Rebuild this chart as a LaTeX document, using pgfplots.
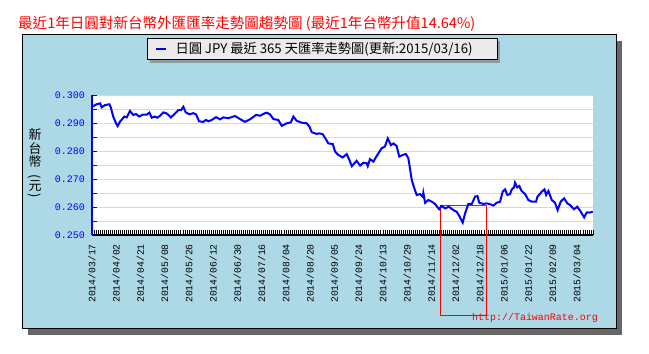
\documentclass[border=0pt]{standalone}
\usepackage{pgfplots}
\pgfplotsset{compat=1.18}
\usepackage{fontspec}
\newfontfamily\cjk{Noto Sans CJK TC}
\newfontfamily\mono{Liberation Mono}
\definecolor{panelblue}{HTML}{ADD8E6}
\definecolor{shadowgray}{HTML}{666666}
\definecolor{legendgray}{HTML}{EBEBEB}
\definecolor{legshadow}{HTML}{8B9DA3}
\definecolor{gridgray}{HTML}{D8D8D8}
\definecolor{pureblue}{HTML}{0000FF}
\definecolor{purered}{HTML}{FF0000}
\begin{document}
\begin{tikzpicture}
\useasboundingbox (0,0) rectangle (649bp,354bp);
\fill[shadowgray] (28bp,19bp) rectangle (622bp,313bp);
\filldraw[fill=panelblue, draw=black, line width=1bp] (22bp,25bp) rectangle (616bp,319bp);
\node[anchor=west, text=purered, font=\cjk\fontsize{14.6}{16}\selectfont, inner sep=0pt] at (18bp,330bp) {最近1年日圓對新台幣外匯匯率走勢圖趨勢圖 (最近1年台幣升值14.64\%)};
\fill[legshadow] (150bp,291bp) rectangle (500bp,313bp);
\begin{scope}[font=\cjk\fontsize{13}{13}\selectfont, inner sep=0pt]
\node at (35bp,219bp) {新};
\node at (35bp,205bp) {台};
\node at (35bp,192bp) {幣};
\node[rotate=-90] at (35bp,177.5bp) {(};
\node at (35bp,168bp) {元};
\node[rotate=-90] at (35bp,158bp) {)};
\end{scope}
\node[anchor=west, text=purered, font=\mono\fontsize{10}{12}\selectfont, inner sep=0pt] at (472bp,36bp) {http://TaiwanRate.org};
\begin{axis}[
  at={(92bp,119bp)}, anchor=south west,
  width=501bp, height=140bp, scale only axis,
  xmin=0, xmax=248, ymin=0.25, ymax=0.30,
  clip=false,
  axis background/.style={fill=white},
  axis x line*=bottom, axis y line*=left,
  x axis line style={black, line width=2bp, -},
  y axis line style={pureblue, line width=1.5bp, -},
  xtick={0,12,...,240},
  xticklabels={2014/03/17,2014/04/02,2014/04/21,2014/05/08,2014/05/26,2014/06/12,2014/06/30,2014/07/16,2014/08/04,2014/08/20,2014/09/05,2014/09/24,2014/10/13,2014/10/29,2014/11/14,2014/12/02,2014/12/18,2015/01/06,2015/01/22,2015/02/09,2015/03/04},
  minor xtick={0,1,...,248},
  ytick={0.25,0.26,0.27,0.28,0.29,0.30},
  minor ytick={0.255,0.265,0.275,0.285,0.295},
  ymajorgrids, yminorgrids,
  major grid style={gridgray, line width=1bp},
  minor grid style={gridgray, line width=1bp},
  tick align=inside,
  major tick length=4.5bp, minor tick length=4.5bp,
  xtick style={black, line width=0.8bp},
  ytick style={pureblue, line width=1bp},
  xticklabel style={rotate=90, anchor=east, inner sep=0pt, font=\mono\fontsize{9.8}{12}\selectfont, text=black},
  xticklabel shift=9bp,
  yticklabel style={anchor=east, inner sep=0pt, font=\mono\fontsize{10}{12}\selectfont, text=pureblue, /pgf/number format/.cd, fixed, fixed zerofill, precision=3},
  yticklabel shift=7bp,
  /pgf/number format/assume math mode=true,
  legend style={at={(rel axis cs:0.1098,1.4071)}, anchor=north west, draw=black, fill=legendgray, line width=1bp, inner sep=0pt, column sep=0pt, nodes={inner sep=0pt}, font=\cjk\fontsize{13.3}{14}\selectfont},
  legend image code/.code={\path[draw=none, fill=none] (0bp,-10.5bp) rectangle (28bp,10.5bp); \draw[pureblue, line width=2.5bp] (8bp,0bp) -- (18bp,0bp);},
]
\draw[purered, line width=1bp] (axis cs:172.3,0.2606) rectangle (axis cs:195.4,0.2214);
\addplot[pureblue, line width=2bp, mark=none] coordinates {
(0,0.2958) (2.3,0.2967) (4.0,0.2970) (4.8,0.2956) (6.4,0.2964) (8.6,0.2967) (9.3,0.2956) (10.5,0.2923) (11.9,0.2899) (12.7,0.2889)
(13.9,0.2905) (16.0,0.2923) (17.2,0.2920) (18.8,0.2943) (20.4,0.2929) (21.8,0.2932) (23.4,0.2923) (25.1,0.2930) (27.1,0.2930) (28.4,0.2937)
(29.6,0.2919) (31.2,0.2923) (32.3,0.2919) (33.7,0.2926) (35.3,0.2938) (37.3,0.2933) (39.0,0.2920) (40.6,0.2930) (42.7,0.2946) (44.1,0.2946)
(45.2,0.2958) (46.4,0.2938) (48.2,0.2931) (50.1,0.2935) (51.5,0.2931) (53.0,0.2906) (55.1,0.2904) (56.4,0.2911) (57.6,0.2906) (59.3,0.2911)
(61.4,0.2921) (63.4,0.2913) (65.0,0.2920) (67.5,0.2917) (70.8,0.2925) (73.3,0.2914) (75.7,0.2904) (78.2,0.2913) (81.2,0.2929) (83.2,0.2926)
(85.6,0.2935) (86.5,0.2937) (88.1,0.2931) (89.8,0.2914) (92.2,0.2911) (93.9,0.2890) (96.4,0.2899) (98.4,0.2902) (99.7,0.2923) (101.3,0.2908)
(103.8,0.2901) (106.3,0.2899) (107.6,0.2887) (108.8,0.2867) (111.2,0.2861) (112.5,0.2863) (114.2,0.2860) (115.8,0.2842) (117.0,0.2827) (119.2,0.2825)
(120.3,0.2798) (121.9,0.2786) (124.1,0.2777) (126.1,0.2789) (127.4,0.2768) (128.6,0.2746) (131.0,0.2765) (132.7,0.2748) (134.3,0.2758) (136.0,0.2756)
(136.5,0.2746) (137.6,0.2771) (139.3,0.2762) (140.9,0.2782) (143.4,0.2810) (145.0,0.2816) (146.4,0.2845) (148.0,0.2821) (149.2,0.2827) (150.8,0.2818)
(152.1,0.2780) (153.8,0.2786) (155.4,0.2789) (156.6,0.2774) (157.4,0.2738) (158.3,0.2696) (159.4,0.2670) (160.7,0.2643) (162.4,0.2646) (163.7,0.2637)
(164.0,0.2651) (164.9,0.2615) (166.5,0.2625) (168.2,0.2619) (169.8,0.2611) (171.8,0.2592) (173.1,0.2604) (174.8,0.2595) (176.6,0.2601) (178.9,0.2589)
(180.5,0.2583) (181.8,0.2568) (183.5,0.2544) (184.7,0.2578) (186.3,0.2611) (188.0,0.2611) (189.6,0.2637) (190.8,0.2639) (191.7,0.2615) (193.7,0.2611)
(195.4,0.2613) (197.0,0.2610) (198.7,0.2605) (200.3,0.2615) (202.0,0.2619) (203.3,0.2655) (204.5,0.2663) (205.6,0.2643) (206.9,0.2646) (207.8,0.2663)
(208.9,0.2670) (209.4,0.2687) (210.5,0.2670) (211.5,0.2675) (212.7,0.2657) (214.4,0.2646) (216.0,0.2625) (217.7,0.2619) (219.8,0.2619) (220.5,0.2637)
(222.7,0.2655) (224.0,0.2663) (224.8,0.2643) (225.9,0.2657) (227.6,0.2625) (229.2,0.2615) (230.5,0.2589) (232.0,0.2619) (233.7,0.2631) (235.3,0.2613)
(236.6,0.2607) (238.6,0.2592) (240.2,0.2601) (241.6,0.2587) (243.6,0.2563) (244.9,0.2581) (246.2,0.2580) (247.9,0.2583)
};
\addlegendentry{\makebox[322bp][l]{日圓 JPY 最近 365 天匯率走勢圖(更新:2015/03/16)}}
\end{axis}
\end{tikzpicture}
\end{document}
